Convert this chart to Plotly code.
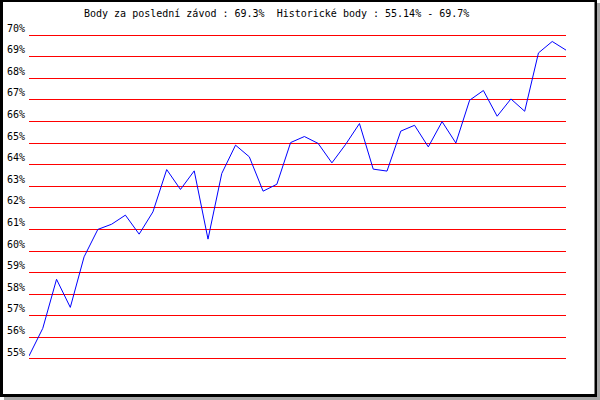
import plotly.graph_objects as go

# Data
race_index = list(range(1, 41))
points_pct = [55.14, 56.42, 58.69, 57.39, 59.73, 61.00, 61.24, 61.66, 60.78, 61.81,
              63.77, 62.85, 63.71, 60.55, 63.59, 64.90, 64.36, 62.77, 63.09, 65.02,
              65.30, 64.98, 64.08, 64.94, 65.90, 63.79, 63.70, 65.55, 65.82, 64.82,
              65.99, 65.00, 66.98, 67.43, 66.24, 67.04, 66.47, 69.17, 69.70, 69.30]
y_ticks = list(range(55, 71))
y_tick_labels = [f"{v}%" for v in y_ticks]
title_text = "Body za poslední závod : 69.3%  Historické body : 55.14% - 69.7%"

W, H = 600, 400
ML, MR, MT, MB = 29, 34, 35, 41
PW, PH = W - ML - MR, H - MT - MB


def px(x):
    return (x - ML) / PW


def py(y):
    return (H - MB - y) / PH


def box(x0, y0, x1, y1, color):
    return dict(type="rect", xref="paper", yref="paper",
                x0=px(x0), x1=px(x1), y0=py(y1), y1=py(y0),
                fillcolor=color, line=dict(width=0), layer="above")


fig = go.Figure()
fig.add_trace(go.Scatter(x=race_index, y=points_pct, mode="lines",
                         line=dict(color="#0000ff", width=1), hoverinfo="skip",
                         cliponaxis=False))

shapes = [
    # shadow
    box(597, 3, 600, 400, "#a8a8a8"),
    box(4, 397, 600, 400, "#a8a8a8"),
    # black frame
    box(0, 0, 597, 2, "#000000"),
    box(0, 0, 3, 397, "#000000"),
    box(594.5, 0, 597, 397, "#000000"),
    box(0, 394, 597, 397, "#000000"),
]
# grid lines at the range ends (plotly skips them); pixel-aligned at plot edges
for edge in (0.5 / PH, 1 - 0.5 / PH):
    shapes.append(dict(type="line", xref="paper", yref="paper", x0=0, x1=1,
                       y0=edge, y1=edge, line=dict(color="#ff0000", width=1),
                       layer="below"))

fig.update_layout(
    width=W, height=H,
    margin=dict(l=ML, r=MR, t=MT, b=MB, pad=0, autoexpand=False),
    paper_bgcolor="#ffffff",
    plot_bgcolor="rgba(0,0,0,0)",
    showlegend=False,
    shapes=shapes,
    font=dict(family="DejaVu Sans Mono", size=10, color="#000000"),
    xaxis=dict(range=[1, 40], showgrid=False, showticklabels=False, zeroline=False,
               showline=False, ticks="", automargin=False),
    yaxis=dict(range=[y_ticks[0], y_ticks[-1]], tickvals=y_ticks,
               ticktext=y_tick_labels,
               showgrid=True, gridcolor="#ff0000", gridwidth=1, zeroline=False,
               showline=False, ticks="", ticklabelposition="outside top",
               ticklabelstandoff=3, automargin=False,
               tickfont=dict(family="DejaVu Sans Mono", size=10, color="#000000")),
    annotations=[dict(text=title_text, xref="paper", yref="paper", x=px(82), y=py(13.5),
                      xanchor="left", yanchor="middle", showarrow=False,
                      font=dict(family="DejaVu Sans Mono", size=10, color="#000000"))],
)

fig.write_html("out.html", config={"displayModeBar": False},
               post_script="document.body.style.margin='0';"
                           "document.body.style.overflow='hidden';")
